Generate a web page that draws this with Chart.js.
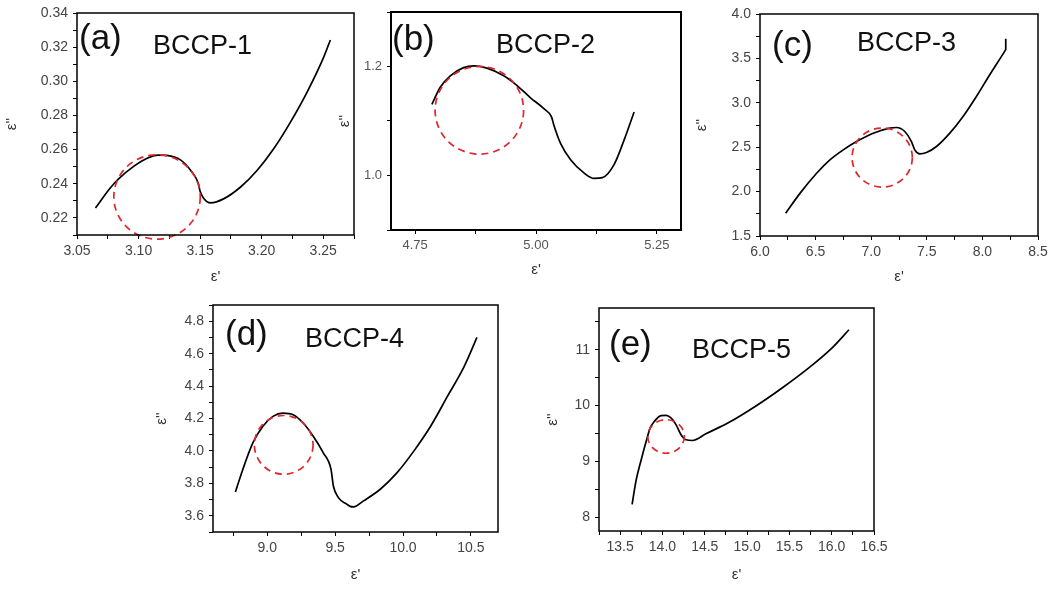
<!DOCTYPE html>
<html>
<head>
<meta charset="utf-8">
<title>BCCP Cole-Cole plots</title>
<script src="https://cdn.jsdelivr.net/npm/chart.js@4.4.0/dist/chart.umd.min.js"></script>
<style>
  html, body { margin: 0; padding: 0; background: #fff; }
  body { width: 1054px; height: 592px; position: relative; overflow: hidden; }
  .panel { position: absolute; }
</style>
</head>
<body>
<div class="panel" id="boxA"><canvas id="chartA"></canvas></div>
<div class="panel" id="boxB"><canvas id="chartB"></canvas></div>
<div class="panel" id="boxC"><canvas id="chartC"></canvas></div>
<div class="panel" id="boxD"><canvas id="chartD"></canvas></div>
<div class="panel" id="boxE"><canvas id="chartE"></canvas></div>
<script>
// ---- data: epsilon' (real) vs epsilon'' (imaginary) for each sample ----
const epsRealA = [3.065, 3.077, 3.084, 3.096, 3.107, 3.116, 3.123, 3.134, 3.143, 3.1486, 3.150, 3.1527, 3.1586, 3.1694, 3.1829, 3.1964, 3.2099, 3.2234, 3.2369, 3.2504, 3.2558];
const epsImagA = [0.2258, 0.2375, 0.2430, 0.2502, 0.2550, 0.2568, 0.2566, 0.2540, 0.2472, 0.2400, 0.2356, 0.2317, 0.2288, 0.2313, 0.2381, 0.2479, 0.2606, 0.2761, 0.2937, 0.3142, 0.3242];
const circleA = [3.115, 0.2323, 0.0351, 0.0247]; // centre x, centre y, radius x, radius y

const epsRealB = [4.7846, 4.8019, 4.8226, 4.8503, 4.871, 4.8987, 4.9333, 4.9609, 4.9886, 5.0162, 5.0321, 5.037, 5.0508, 5.0716, 5.0992, 5.12, 5.1373, 5.1615, 5.1822, 5.203];
const epsImagB = [1.1305, 1.162, 1.183, 1.198, 1.2012, 1.197, 1.183, 1.165, 1.1426, 1.1227, 1.1075, 1.0924, 1.059, 1.029, 1.0048, 0.9946, 0.996, 1.02, 1.065, 1.1166];
const circleB = [4.8828, 1.1196, 0.0916, 0.0804];

const epsRealC = [6.2305, 6.3593, 6.509, 6.6287, 6.7485, 6.868, 7.018, 7.1677, 7.2275, 7.302, 7.362, 7.392, 7.437, 7.497, 7.587, 7.707, 7.826, 7.946, 8.066, 8.20, 8.21, 8.21];
const epsImagC = [1.7556, 1.98, 2.2068, 2.357, 2.47, 2.564, 2.658, 2.715, 2.722, 2.677, 2.564, 2.47, 2.425, 2.44, 2.508, 2.658, 2.846, 3.0714, 3.316, 3.579, 3.60, 3.72];
const circleC = [7.0988, 2.3835, 0.271, 0.3327];

const epsRealD = [8.7652, 8.8196, 8.8937, 8.9679, 9.042, 9.1162, 9.1903, 9.2645, 9.3386, 9.4128, 9.4696, 9.4869, 9.524, 9.5858, 9.6102, 9.6352, 9.7088, 9.8326, 9.9565, 10.0796, 10.2034, 10.3272, 10.4503, 10.545];
const epsImagD = [3.747, 3.886, 4.0495, 4.152, 4.213, 4.233, 4.223, 4.172, 4.09, 3.988, 3.886, 3.784, 3.712, 3.6716, 3.658, 3.655, 3.692, 3.7638, 3.8663, 3.9988, 4.1521, 4.3362, 4.5202, 4.70];
const circleD = [9.1211, 4.0375, 0.2163, 0.181];

const epsRealE = [13.6415, 13.689, 13.748, 13.807, 13.854, 13.905, 13.983, 14.042, 14.101, 14.16, 14.219, 14.278, 14.357, 14.514, 14.789, 15.1, 15.418, 15.733, 16.008, 16.204];
const epsImagE = [8.229, 8.663, 9.024, 9.355, 9.596, 9.717, 9.819, 9.825, 9.777, 9.657, 9.476, 9.386, 9.373, 9.494, 9.70, 9.988, 10.32, 10.68, 11.04, 11.36];
const circleE = [14.0425, 9.446, 0.216, 0.301];

// ---- axis ranges: [min, max, minor step, labelled step, decimals] ----
const xAxisA = [3.05, 3.275, 0.025, 0.05, 2];
const yAxisA = [0.21, 0.34, 0.01, 0.02, 2];
const xAxisB = [4.70, 5.30, 0.125, 0.25, 2];
const yAxisB = [0.9, 1.3, 0.1, 0.2, 1];
const xAxisC = [6.0, 8.5, 0.25, 0.5, 1];
const yAxisC = [1.5, 4.0, 0.25, 0.5, 1];
const xAxisD = [8.6, 10.7, 0.25, 0.5, 1];
const yAxisD = [3.5, 4.9, 0.1, 0.2, 1];
const xAxisE = [13.25, 16.5, 0.25, 0.5, 1];
const yAxisE = [7.75, 11.75, 0.5, 1, 0];

const sampleNames = ['BCCP-1', 'BCCP-2', 'BCCP-3', 'BCCP-4', 'BCCP-5'];
const panelTags = ['(a)', '(b)', '(c)', '(d)', '(e)'];

Chart.defaults.font.family = '"Liberation Sans", Arial, sans-serif';

// frame / fitted circle / panel captions
const panelDecor = {
  id: 'panelDecor',
  afterDatasetsDraw(chart, args, o) {
    const {ctx, scales: {x, y}} = chart;
    const [cx, cy, rx, ry] = o.circle;
    const px = x.getPixelForValue(cx), py = y.getPixelForValue(cy);
    const rpx = Math.abs(x.getPixelForValue(cx + rx) - px);
    const rpy = Math.abs(y.getPixelForValue(cy + ry) - py);
    ctx.save();
    ctx.strokeStyle = '#e0262a';
    ctx.lineWidth = 1.7;
    ctx.setLineDash([7, 5]);
    ctx.beginPath();
    ctx.ellipse(px, py, rpx, rpy, 0, 0, Math.PI * 2);
    ctx.stroke();
    ctx.restore();
  },
  afterDraw(chart, args, o) {
    const {ctx, chartArea: a} = chart;
    ctx.save();
    ctx.strokeStyle = '#000';
    ctx.lineWidth = o.frameWidth;
    ctx.strokeRect(a.left, a.top, a.right - a.left, a.bottom - a.top);
    ctx.fillStyle = '#111';
    ctx.textBaseline = 'alphabetic';
    ctx.font = '35px "Liberation Sans", Arial, sans-serif';
    ctx.fillText(o.tag, a.left + o.tagAt[0], a.top + o.tagAt[1]);
    ctx.font = '27px "Liberation Sans", Arial, sans-serif';
    ctx.fillText(o.name, a.left + o.nameAt[0], a.top + o.nameAt[1]);
    ctx.restore();
  }
};
Chart.register(panelDecor);

function isLabelled(v, step) {
  const k = v / step;
  return Math.abs(k - Math.round(k)) < 1e-6;
}

function axisOptions(range, horizontal, size, tickFont, tickColor) {
  const [min, max, minor, major, digits] = range;
  return {
    type: 'linear',
    position: horizontal ? 'bottom' : 'left',
    min: min,
    max: max,
    border: { display: false },
    grid: { drawOnChartArea: false, drawTicks: true, tickLength: 4, tickColor: '#000', tickWidth: 1 },
    ticks: {
      autoSkip: false,
      maxRotation: 0,
      minRotation: 0,
      padding: horizontal ? 4 : 5,
      color: tickColor,
      font: { size: tickFont },
      callback: (v) => isLabelled(v, major) ? Number(v).toFixed(digits) : ''
    },
    title: {
      display: true,
      text: horizontal ? "ε'" : "ε''",
      color: '#333',
      font: { size: 15 },
      padding: 0
    },
    // minor ticks every `minor`, labels only on multiples of `major`
    afterBuildTicks(scale) {
      const ticks = [];
      const first = Math.ceil(min / minor - 1e-6);
      const last = Math.floor(max / minor + 1e-6);
      for (let k = first; k <= last; k++) ticks.push({ value: +(k * minor).toFixed(6) });
      scale.ticks = ticks;
    },
    afterFit(scale) {
      if (horizontal) scale.height = size; else scale.width = size;
      scale.paddingLeft = 0; scale.paddingRight = 0;
      scale.paddingTop = 0; scale.paddingBottom = 0;
    }
  };
}

function buildPanel(p) {
  const [fl, ft, fr, fb] = p.frame;
  const left = p.yTitleX - 9;
  const top = ft - 10;
  const right = fr + 20;
  const bottom = p.xTitleY + 9;
  const box = document.getElementById(p.box);
  box.style.left = left + 'px';
  box.style.top = top + 'px';
  box.style.width = (right - left) + 'px';
  box.style.height = (bottom - top) + 'px';

  const points = p.xs.map((v, i) => ({ x: v, y: p.ys[i] }));
  new Chart(document.getElementById(p.canvas), {
    type: 'scatter',
    data: {
      datasets: [{
        data: points,
        showLine: true,
        borderColor: '#000',
        borderWidth: 1.7,
        pointRadius: 0,
        cubicInterpolationMode: 'monotone',
        fill: false
      }]
    },
    options: {
      responsive: true,
      maintainAspectRatio: false,
      animation: false,
      layout: { padding: { top: 10, right: 20, left: 0, bottom: 0 } },
      scales: {
        x: axisOptions(p.xAxis, true, bottom - fb, p.tickFont, p.tickColor),
        y: axisOptions(p.yAxis, false, fl - left, p.tickFont, p.tickColor)
      },
      plugins: {
        legend: { display: false },
        tooltip: { enabled: false },
        panelDecor: {
          circle: p.circle,
          frameWidth: p.frameWidth,
          tag: p.tag,
          name: p.name,
          tagAt: p.tagAt,
          nameAt: p.nameAt
        }
      }
    }
  });
}

const panels = [
  { box: 'boxA', canvas: 'chartA', xs: epsRealA, ys: epsImagA, circle: circleA, xAxis: xAxisA, yAxis: yAxisA,
    frame: [77, 13, 354, 235], yTitleX: 12, xTitleY: 277, tickFont: 14, tickColor: '#444', frameWidth: 1.5,
    tag: panelTags[0], name: sampleNames[0], tagAt: [2, 36], nameAt: [76, 41] },
  { box: 'boxB', canvas: 'chartB', xs: epsRealB, ys: epsImagB, circle: circleB, xAxis: xAxisB, yAxis: yAxisB,
    frame: [391, 12, 681, 230], yTitleX: 345, xTitleY: 270, tickFont: 13, tickColor: '#555', frameWidth: 2,
    tag: panelTags[1], name: sampleNames[1], tagAt: [1, 38], nameAt: [105, 41] },
  { box: 'boxC', canvas: 'chartC', xs: epsRealC, ys: epsImagC, circle: circleC, xAxis: xAxisC, yAxis: yAxisC,
    frame: [760, 14, 1038, 236], yTitleX: 702, xTitleY: 277, tickFont: 14, tickColor: '#444', frameWidth: 1.5,
    tag: panelTags[2], name: sampleNames[2], tagAt: [12, 42], nameAt: [97, 37] },
  { box: 'boxD', canvas: 'chartD', xs: epsRealD, ys: epsImagD, circle: circleD, xAxis: xAxisD, yAxis: yAxisD,
    frame: [213, 305, 498, 532], yTitleX: 162, xTitleY: 575, tickFont: 14, tickColor: '#444', frameWidth: 1.5,
    tag: panelTags[3], name: sampleNames[3], tagAt: [12, 40], nameAt: [92, 42] },
  { box: 'boxE', canvas: 'chartE', xs: epsRealE, ys: epsImagE, circle: circleE, xAxis: xAxisE, yAxis: yAxisE,
    frame: [599, 308, 874, 531], yTitleX: 553, xTitleY: 575, tickFont: 14, tickColor: '#444', frameWidth: 1.5,
    tag: panelTags[4], name: sampleNames[4], tagAt: [10, 47], nameAt: [93, 50] }
];

panels.forEach(buildPanel);
</script>
</body>
</html>
